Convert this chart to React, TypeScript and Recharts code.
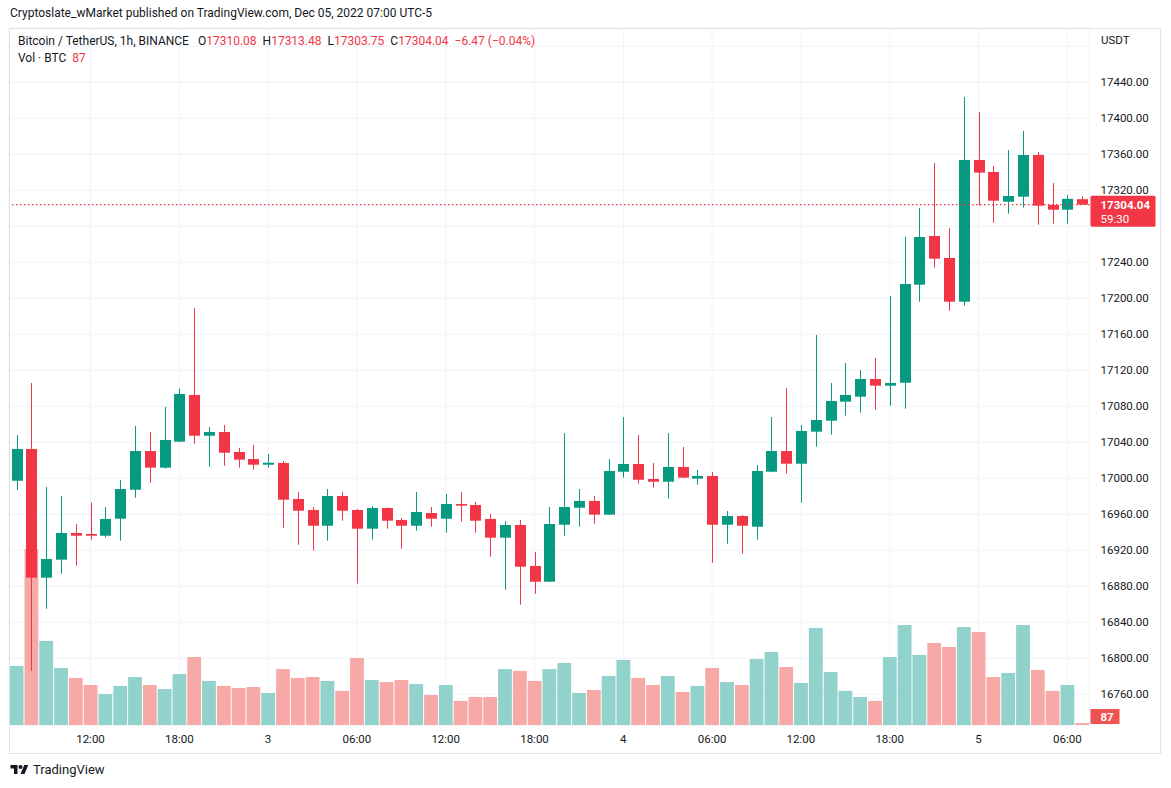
import { ComposedChart, Bar, XAxis, YAxis, CartesianGrid, ReferenceLine } from "recharts";

// BTC/USDT 1h, Binance — Dec 2 07:00 → Dec 5 07:00 (UTC-5)
const opens = [
  16997.3, 17032.6, 16889.6, 16909.6, 16939.2, 16938.1, 16936.2, 16955.1, 16987.3, 17030.3,
  17011.8, 17040.7, 17092.6, 17047.3, 17051.4, 17029.2, 17021.4, 17015.1, 17017.0, 16977.0,
  16964.8, 16947.3, 16980.3, 16964.8, 16944.0, 16967.0, 16953.7, 16947.3, 16961.4, 16955.1,
  16971.4, 16970.3, 16954.8, 16934.0, 16948.1, 16902.6, 16885.1, 16948.4, 16967.3, 16974.8,
  16959.6, 17007.3, 17015.9, 16999.2, 16996.2, 17012.6, 16999.6, 17002.6, 16948.4, 16958.1,
  16946.2, 17007.3, 17030.3, 17016.2, 17051.8, 17064.0, 17085.1, 17090.7, 17110.3, 17102.9,
  17106.2, 17215.1, 17269.2, 17244.8, 17196.2, 17353.7, 17340.3, 17307.3, 17312.9, 17359.2,
  17303.7, 17298.4, 17310.08,
];
const highs = [
  17048.1, 17105.9, 16990.3, 16980.3, 16949.2, 16973.0, 16968.1, 16998.1, 17058.1, 17051.4,
  17079.2, 17099.6, 17189.2, 17057.0, 17059.2, 17033.7, 17037.0, 17027.0, 17019.2, 16984.8,
  16968.1, 16988.1, 16984.8, 16965.9, 16969.2, 16967.5, 16955.9, 16984.8, 16968.1, 16982.6,
  16984.8, 16973.7, 16960.3, 16952.6, 16953.7, 16918.1, 16968.1, 17050.3, 16988.1, 16980.3,
  17021.4, 17068.1, 17048.1, 17017.0, 17050.3, 17034.8, 17009.2, 17007.0, 16963.7, 16959.2,
  17014.8, 17068.1, 17100.3, 17059.2, 17159.2, 17105.9, 17128.1, 17120.3, 17133.7, 17202.6,
  17268.1, 17300.3, 17350.3, 17278.1, 17423.7, 17407.0, 17347.0, 17364.8, 17386.0, 17362.6,
  17328.1, 17314.8, 17313.48,
];
const lows = [
  16987.0, 16786.0, 16855.0, 16894.0, 16902.9, 16931.8, 16934.0, 16930.7, 16978.4, 16995.1,
  17010.7, 17040.2, 17038.4, 17012.9, 17014.0, 17011.8, 17009.6, 17011.8, 16945.1, 16926.2,
  16919.6, 16930.7, 16952.9, 16883.0, 16931.8, 16944.0, 16921.8, 16941.8, 16946.2, 16939.6,
  16951.8, 16939.6, 16912.9, 16876.2, 16859.6, 16871.8, 16884.6, 16936.2, 16946.2, 16949.6,
  16959.1, 17000.7, 16994.0, 16989.6, 16977.3, 17000.2, 16992.9, 16906.2, 16927.3, 16916.2,
  16931.8, 17006.8, 17005.1, 16972.9, 17035.1, 17048.4, 17069.6, 17072.9, 17076.2, 17080.7,
  17077.3, 17196.2, 17234.0, 17186.2, 17191.8, 17302.9, 17284.0, 17294.0, 17300.7, 17281.8,
  17282.9, 17282.9, 17303.75,
];
const closes = [
  17032.6, 16889.6, 16910.3, 16939.2, 16936.2, 16936.2, 16954.8, 16988.1, 17030.3, 17011.8,
  17042.6, 17093.7, 17047.3, 17051.4, 17028.4, 17020.7, 17015.1, 17017.3, 16976.2, 16964.0,
  16947.3, 16980.3, 16964.0, 16944.0, 16967.0, 16952.9, 16947.3, 16962.6, 16955.1, 16971.4,
  16969.6, 16952.9, 16934.0, 16948.1, 16901.8, 16885.1, 16949.2, 16968.1, 16974.8, 16959.6,
  17008.1, 17015.9, 16998.4, 16996.2, 17012.6, 17000.7, 17002.6, 16948.4, 16958.1, 16947.3,
  17008.1, 17030.3, 17016.2, 17052.6, 17064.8, 17085.9, 17092.6, 17110.3, 17102.9, 17105.9,
  17215.9, 17268.1, 17244.0, 17196.2, 17353.7, 17339.6, 17308.4, 17313.7, 17359.2, 17302.9,
  17298.4, 17310.51, 17304.04,
];
const volumes = [
  2600, 7740, 3700, 2510, 2070, 1760, 1360, 1720, 2110, 1760,
  1580, 2240, 2990, 1940, 1720, 1630, 1670, 1410, 2460, 2070,
  2110, 1940, 1500, 2950, 1980, 1890, 1980, 1800, 1320, 1760,
  1060, 1230, 1230, 2460, 2380, 1940, 2460, 2730, 1410, 1540,
  2160, 2860, 2070, 1760, 2160, 1450, 1720, 2510, 1890, 1760,
  2900, 3210, 2550, 1850, 4270, 2330, 1500, 1230, 1060, 2990,
  4400, 3080, 3610, 3430, 4310, 4090, 2110, 2290, 4400, 2420,
  1500, 1760, 87,
];

// hourly category labels, "day HH:00"
const hours: string[] = opens.map((_, i) => {
  const h = 7 + i;
  return `${2 + Math.floor(h / 24)} ${String(h % 24).padStart(2, "0")}:00`;
});

const timeTicks = ["2 12:00", "2 18:00", "3 00:00", "3 06:00", "3 12:00", "3 18:00", "4 00:00", "4 06:00", "4 12:00", "4 18:00", "5 00:00", "5 06:00"];
const timeTickLabels = ["12:00", "18:00", "3", "06:00", "12:00", "18:00", "4", "06:00", "12:00", "18:00", "5", "06:00"];

const priceTicks = [
  16760, 16800, 16840, 16880, 16920, 16960, 17000, 17040, 17080, 17120,
  17160, 17200, 17240, 17280, 17320, 17360, 17400, 17440, 17480,
];
// labels hidden under the price tag / "USDT"
const coveredTicks = [17280, 17480];

const UP = "#089981";
const DOWN = "#f23645";
const VOL_UP = "#92d2cc";
const VOL_DOWN = "#f7a9a7";
const TEXT = "#131722";
const GRID = "#f0f3fa";
const FONT = "Roboto, sans-serif";

const data = hours.map((t, i) => ({
  t,
  open: opens[i],
  high: highs[i],
  low: lows[i],
  close: closes[i],
  volume: volumes[i],
}));

const last = data[data.length - 1];
const prevClose = data[data.length - 2].close;
const change = last.close - prevClose;
const changePct = (change / prevClose) * 100;
const countdown = "59:30";

const fmtSigned = (v: number, digits: number) => (v < 0 ? "\u2212" : "+") + Math.abs(v).toFixed(digits);

const Candle = (props: any) => {
  const { x, y, width, height, payload } = props;
  if (!payload) return <g />;
  const { open, close, high, low } = payload;
  const color = close >= open ? UP : DOWN;
  const range = high - low || 1;
  const toY = (v: number) => y + ((high - v) / range) * height;
  const top = toY(Math.max(open, close));
  const bot = toY(Math.min(open, close));
  const cx = Math.round(x + width / 2) + 0.5;
  const bodyW = 11;
  return (
    <g>
      <line x1={cx} x2={cx} y1={y} y2={y + height} stroke={color} strokeWidth={1} />
      <rect x={cx - bodyW / 2} y={top} width={bodyW} height={Math.max(bot - top, 1.5)} fill={color} />
    </g>
  );
};

const VolumeBar = (props: any) => {
  const { x, y, width, height, payload } = props;
  if (!payload) return <g />;
  const color = payload.close >= payload.open ? VOL_UP : VOL_DOWN;
  return <rect x={x + 0.6} y={y} width={width - 1.2} height={Math.max(height, 0)} fill={color} />;
};

const PriceTick = ({ x, y, payload }: any) => {
  if (coveredTicks.includes(payload.value)) return <g />;
  return (
    <text x={x} y={y} dy="0.355em" fontSize={11.5} fill={TEXT} textAnchor="start">
      {Number(payload.value).toFixed(2)}
    </text>
  );
};

const TimeTick = ({ x, y, payload }: any) => (
  <text x={x} y={y} dy="0.71em" fontSize={11.5} fill={TEXT} textAnchor="middle">
    {timeTickLabels[timeTicks.indexOf(payload.value)]}
  </text>
);

const PriceTag = ({ viewBox }: any) => {
  if (!viewBox) return null;
  const left = viewBox.x + viewBox.width + 1;
  const y = viewBox.y;
  return (
    <g>
      <rect x={left} y={y - 9} width={65} height={31} rx={1.5} fill={DOWN} />
      <text x={left + 10} y={y} dy="0.355em" fontSize={11.5} fontWeight={700} fill="#fff">
        {last.close.toFixed(2)}
      </text>
      <text x={left + 10} y={y + 14} dy="0.355em" fontSize={11.5} fill="#fff">
        {countdown}
      </text>
    </g>
  );
};

const VolumeTag = ({ viewBox }: any) => {
  if (!viewBox) return null;
  const left = viewBox.x + viewBox.width + 1;
  const y = viewBox.y;
  return (
    <g>
      <rect x={left} y={y - 14} width={29} height={15} fill="#ef5350" />
      <text x={left + 10} y={y - 6.5} dy="0.355em" fontSize={11.5} fontWeight={700} fill="#fff">
        {last.volume}
      </text>
    </g>
  );
};

const red = { color: DOWN };

export default function App() {
  return (
    <div style={{ position: "absolute", left: 0, top: 0, width: 1171, height: 788, background: "#fff", fontFamily: FONT, color: TEXT }}>
      <div style={{ position: "absolute", left: 10, top: 6, fontSize: 12, whiteSpace: "nowrap" }}>
        Cryptoslate_wMarket published on TradingView.com, Dec 05, 2022 07:00 UTC-5
      </div>

      <div style={{ position: "absolute", left: 0, top: 0 }}>
        <ComposedChart
          width={1171}
          height={788}
          data={data}
          margin={{ top: 28, right: 11.5, bottom: 35, left: 9.1 }}
          barCategoryGap={0}
          barGap={0}
        >
          <CartesianGrid stroke={GRID} strokeWidth={1} />
          <XAxis
            dataKey="t"
            ticks={timeTicks}
            interval={0}
            axisLine={false}
            tickLine={false}
            tickSize={0}
            tickMargin={10}
            height={28}
            tick={<TimeTick />}
          />
          <XAxis xAxisId="v" dataKey="t" hide />
          <YAxis
            orientation="right"
            type="number"
            domain={[16725.9, 17500.3]}
            allowDataOverflow
            ticks={priceTicks}
            interval={0}
            axisLine={false}
            tickLine={false}
            tickSize={0}
            tickMargin={11}
            width={70}
            tick={<PriceTick />}
          />
          <YAxis yAxisId="v" type="number" domain={[0, 30668]} allowDataOverflow hide />
          <Bar
            xAxisId="v"
            yAxisId="v"
            dataKey="volume"
            shape={<VolumeBar />}
            isAnimationActive={false}
          />
          <Bar
            dataKey={(d: any) => [d.low, d.high]}
            shape={<Candle />}
            isAnimationActive={false}
          />
          <ReferenceLine
            y={last.close}
            stroke={DOWN}
            strokeWidth={1.4}
            strokeDasharray="1.5 2.5"
            label={<PriceTag />}
          />
          <ReferenceLine
            xAxisId="v"
            yAxisId="v"
            y={last.volume}
            stroke="none"
            label={<VolumeTag />}
          />
        </ComposedChart>
      </div>

      {/* pane frame */}
      <div style={{ position: "absolute", left: 9, top: 28, width: 1150, height: 724, border: "1px solid #e0e3eb", pointerEvents: "none" }} />

      {/* legend */}
      <div style={{ position: "absolute", left: 18, top: 34, fontSize: 12, whiteSpace: "nowrap" }}>
        <span>Bitcoin / TetherUS, 1h, BINANCE</span>
        <span style={{ marginLeft: 9 }}>O<span style={red}>{last.open.toFixed(2)}</span></span>
        <span style={{ marginLeft: 6 }}>H<span style={red}>{last.high.toFixed(2)}</span></span>
        <span style={{ marginLeft: 6 }}>L<span style={red}>{last.low.toFixed(2)}</span></span>
        <span style={{ marginLeft: 6 }}>C<span style={red}>{last.close.toFixed(2)}</span></span>
        <span style={{ marginLeft: 6, color: DOWN }}>
          {fmtSigned(change, 2)} ({fmtSigned(changePct, 2)}%)
        </span>
      </div>
      <div style={{ position: "absolute", left: 18, top: 51, fontSize: 12, whiteSpace: "nowrap" }}>
        Vol · BTC <span style={{ marginLeft: 3, color: DOWN }}>{last.volume}</span>
      </div>

      <div style={{ position: "absolute", left: 1101, top: 33, fontSize: 11.5 }}>USDT</div>

      {/* footer logo */}
      <div style={{ position: "absolute", left: 10, top: 762, display: "flex", alignItems: "center", fontSize: 13, whiteSpace: "nowrap" }}>
        <svg width="19" height="14" viewBox="0 0 36 28">
          <path d="M14 22H7V11H0V4h14v18zM28 22h-8l7.5-18h8L28 22z" fill={TEXT} />
          <circle cx="20" cy="8" r="4" fill={TEXT} />
        </svg>
        <span style={{ marginLeft: 4 }}>TradingView</span>
      </div>
    </div>
  );
}
